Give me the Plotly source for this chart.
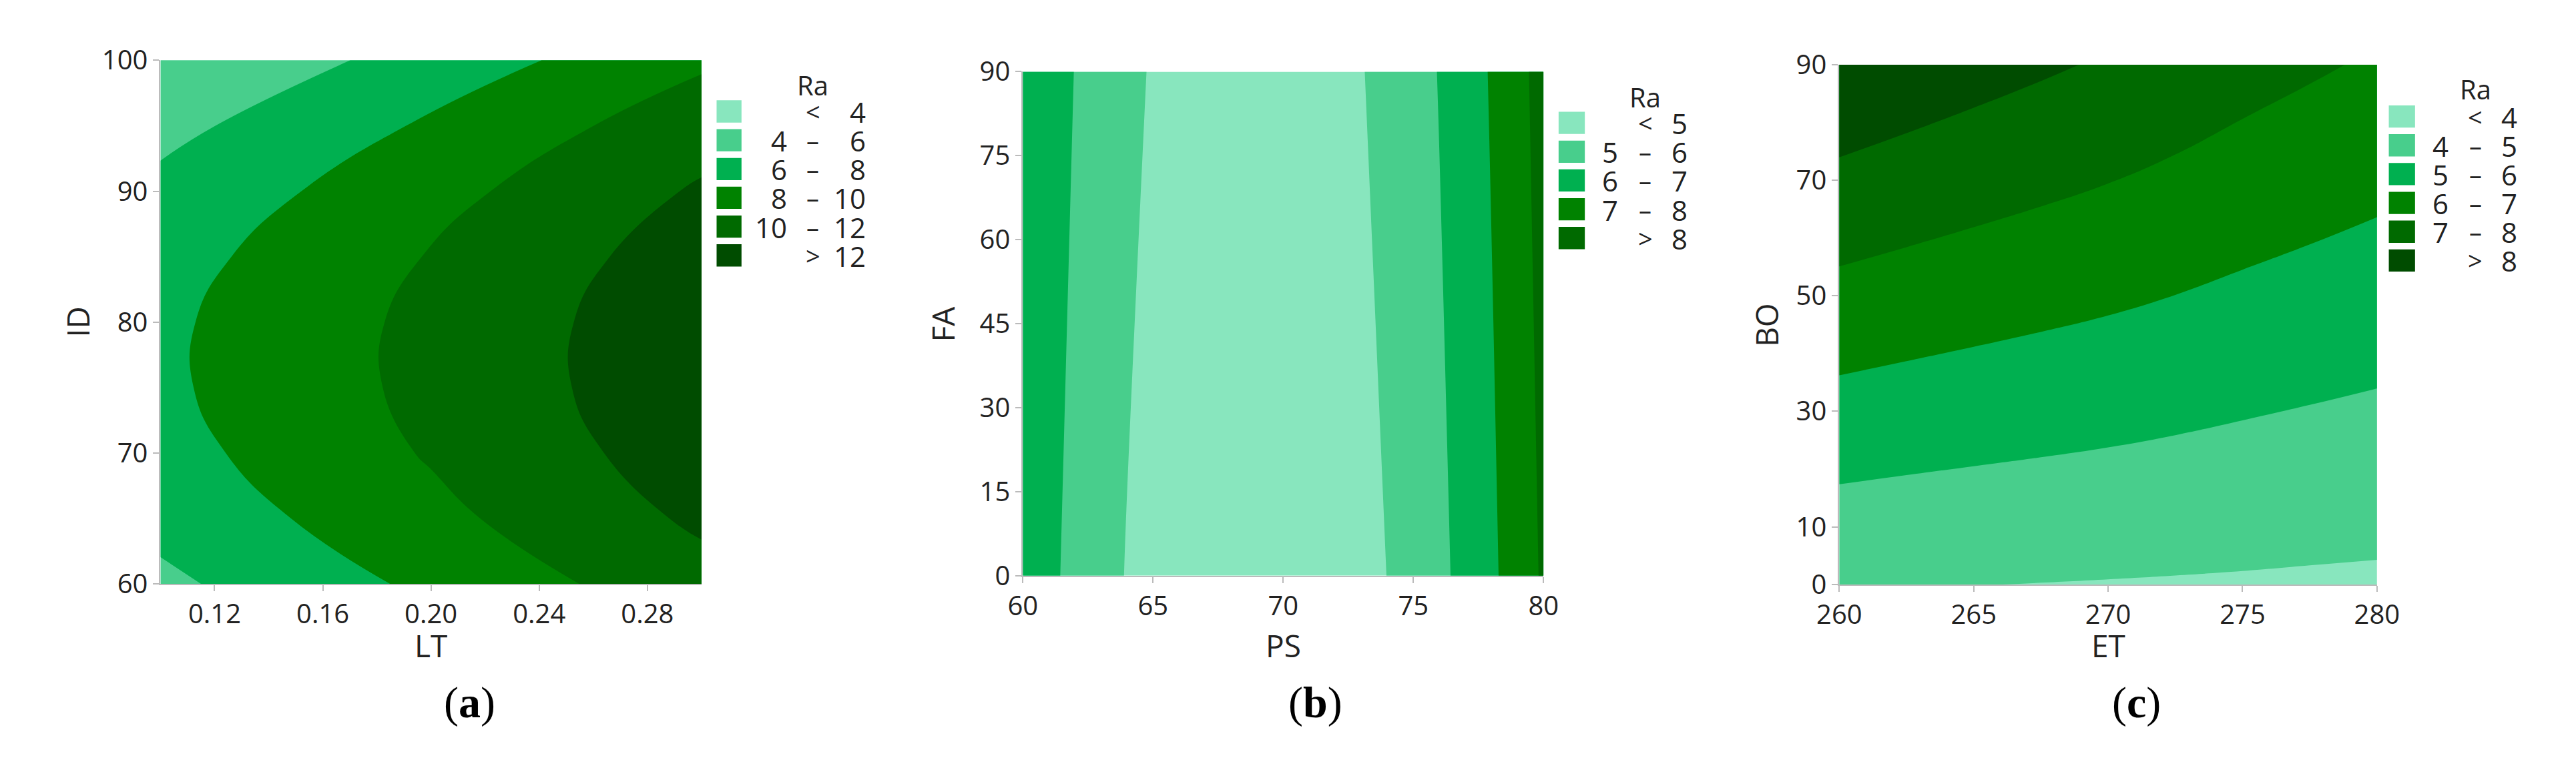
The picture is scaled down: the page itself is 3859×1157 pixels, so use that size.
import plotly.graph_objects as go

W, H = 3859, 1157
PALETTE = ['#88E6BE', '#48CE8C', '#00B050', '#008200', '#006A00', '#004C00']

# ---- (a) LT vs ID ----
a_x = [0.10, 0.20, 0.30]
a_y = [60, 65, 70, 75, 80, 85, 90, 95, 100]
a_z = [
    [5.57, 8.43, 11.29],
    [6.62, 9.48, 12.34],
    [7.31, 10.17, 13.03],
    [7.65, 10.51, 13.37],
    [7.63, 10.49, 13.35],
    [7.25, 10.11, 12.97],
    [6.51, 9.37, 12.23],
    [5.42, 8.28, 11.14],
    [4.05, 6.83, 9.69],
]
a_levels = [4, 6, 8, 10, 12]
a_xticks = [0.12, 0.16, 0.20, 0.24, 0.28]
a_yticks = [60, 70, 80, 90, 100]

# ---- (b) PS vs FA ----
b_x = list(range(60, 81))
b_y = [0, 90]
b_z = [
    [6.75, 6.21, 5.73, 5.31, 4.96, 4.68, 4.46, 4.30, 4.21, 4.18, 4.22, 4.32, 4.48, 4.71, 5.01, 5.37, 5.79, 6.28, 6.83, 7.45, 8.13],
    [7.00, 6.46, 5.98, 5.56, 5.21, 4.93, 4.71, 4.55, 4.46, 4.43, 4.47, 4.57, 4.73, 4.96, 5.26, 5.62, 6.04, 6.53, 7.08, 7.70, 8.38],
]
b_levels = [5, 6, 7, 8]
b_xticks = [60, 65, 70, 75, 80]
b_yticks = [0, 15, 30, 45, 60, 75, 90]

# ---- (c) ET vs BO ----
c_x = [260, 262.5, 265, 267.5, 270, 272.5, 275, 277.5, 280]
c_y = [0, 90]
c_z = [
    [4.08, 4.04, 4.01, 3.985, 3.96, 3.935, 3.91, 3.88, 3.855],
    [8.85, 8.60, 8.36, 8.13, 7.90, 7.64, 7.36, 7.12, 6.89],
]
c_levels = [4, 5, 6, 7, 8]
c_xticks = [260, 265, 270, 275, 280]
c_yticks = [0, 10, 30, 50, 70, 90]

def fx(p):
    return p / W

def fy(p):
    return 1 - p / H

panels = [
    dict(x=a_x, y=a_y, z=a_z, lv=a_levels, xt=a_xticks, yt=a_yticks, xr=[0.10, 0.30], yr=[60, 100],
         fmt='.2f', xtitle='LT', ytitle='ID', cap='a',
         box=(202, 1027, 56, 880), ytl=75, cx=673,
         leg=dict(bx=(1050, 1088), top=119, rax=1197, ray=94, lr=1158, sym=1197, rr=1279)),
    dict(x=b_x, y=b_y, z=b_z, lv=b_levels, xt=b_xticks, yt=b_yticks, xr=[60, 80], yr=[0, 90],
         fmt='', xtitle='PS', ytitle='FA', cap='b',
         box=(1517, 2311, 74, 867), ytl=1395, cx=1963,
         leg=dict(bx=(2334, 2374), top=137, rax=2466, ray=113, lr=2426, sym=2466, rr=2532)),
    dict(x=c_x, y=c_y, z=c_z, lv=c_levels, xt=c_xticks, yt=c_yticks, xr=[260, 280], yr=[0, 90],
         fmt='', xtitle='ET', ytitle='BO', cap='c',
         box=(2762, 3582, 63, 881), ytl=2650, cx=3215,
         leg=dict(bx=(3600, 3640), top=127, rax=3732, ray=101, lr=3692, sym=3732, rr=3797)),
]

fig = go.Figure()
font = 'Open Sans'
tc = '#222222'
shapes, annos = [], []
for i, p in enumerate(panels, start=1):
    lv = p['lv']
    nc = len(lv)
    cols = PALETTE[:nc + 1]
    cscale = [[j / nc, cols[j]] for j in range(nc + 1)]
    xa = 'x' if i == 1 else f'x{i}'
    ya = 'y' if i == 1 else f'y{i}'
    fig.add_trace(go.Contour(
        x=p['x'], y=p['y'], z=p['z'], xaxis=xa, yaxis=ya,
        autocontour=False,
        contours=dict(start=lv[0], end=lv[-1], size=lv[1] - lv[0], coloring='fill'),
        colorscale=cscale, showscale=False, line=dict(width=0, smoothing=1.3),
        hoverinfo='skip'))
    x0, x1, y0, y1 = p['box']
    axcommon = dict(showgrid=False, zeroline=False, showline=True, linecolor='#BBBBBB', linewidth=2,
                    ticks='outside', ticklen=9, tickwidth=2, tickcolor='#BBBBBB',
                    tickfont=dict(family=font, size=40, color=tc))
    fig.layout[f'xaxis{i}'] = dict(domain=[fx(x0), fx(x1)], range=p['xr'], tickvals=p['xt'],
                                  tickformat=p['fmt'], anchor=ya, **axcommon)
    fig.layout[f'yaxis{i}'] = dict(domain=[fy(y1), fy(y0)], range=p['yr'], tickvals=p['yt'],
                                  anchor=xa, **axcommon)
    annos.append(dict(x=fx((x0 + x1) / 2), y=fy(976), xref='paper', yref='paper', text=p['xtitle'],
                      showarrow=False, font=dict(family=font, size=46, color=tc), xanchor='center',
                      yanchor='middle', height=50))
    annos.append(dict(x=fx(p['ytl']), y=fy((y0 + y1) / 2), xref='paper', yref='paper', text=p['ytitle'],
                      showarrow=False, textangle=-90, font=dict(family=font, size=46, color=tc),
                      xanchor='center', yanchor='middle'))
    annos.append(dict(x=fx(p['cx']), y=fy(1067), xref='paper', yref='paper', text=f"(<b>{p['cap']}</b>)",
                      showarrow=False, font=dict(family='Liberation Serif', size=66, color='black'),
                      xanchor='center', yanchor='middle'))
    L = p['leg']
    annos.append(dict(x=fx(L['rax']), y=fy(L['ray']), xref='paper', yref='paper', text='Ra', showarrow=False,
                      font=dict(family=font, size=40, color=tc), xanchor='center', yanchor='middle', height=36))
    labels = [('', '<', str(lv[0]))] + [(str(lv[k]), '–', str(lv[k + 1])) for k in range(nc - 1)] + [('', '>', str(lv[-1]))]
    for j, (l, s, r) in enumerate(labels):
        top = L['top'] + j * 45.3
        shapes.append(dict(type='rect', xref='paper', yref='paper', x0=fx(L['bx'][0]), x1=fx(L['bx'][1]),
                           y0=fy(top + 35), y1=fy(top), fillcolor=cols[j], line=dict(width=0)))
        cy = fy(top + 17.5)
        common = dict(xref='paper', yref='paper', showarrow=False, yanchor='middle', height=38, borderpad=0)
        if l:
            annos.append(dict(x=fx(L['lr']), y=cy, text=l, font=dict(family=font, size=42, color=tc),
                              xanchor='right', **common))
        annos.append(dict(x=fx(L['sym']), y=cy, text=s, font=dict(family=font, size=38, color=tc),
                          xanchor='center', **common))
        annos.append(dict(x=fx(L['rr']), y=cy, text=r, font=dict(family=font, size=42, color=tc),
                          xanchor='right', **common))

fig.update_layout(width=W, height=H, margin=dict(l=0, r=0, t=0, b=0), paper_bgcolor='white',
                  plot_bgcolor='white', shapes=shapes, annotations=annos, showlegend=False)
fig.write_html('out.html')
